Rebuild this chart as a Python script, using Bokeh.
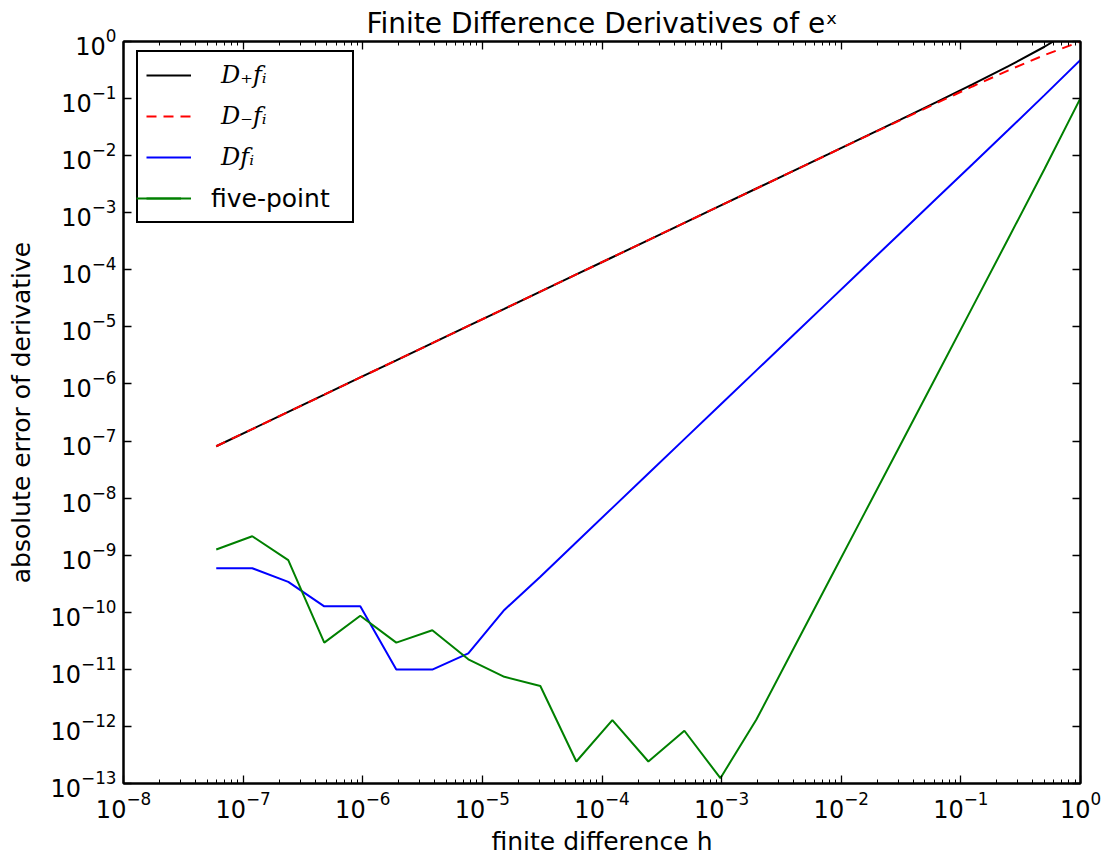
from bokeh.plotting import figure
from bokeh.models import LogAxis, FixedTicker, Legend, LegendItem, Range1d
from bokeh.embed import file_html
from bokeh.resources import INLINE

# finite difference step sizes h (powers of two)
h = [5.960464477539063e-08, 1.1920928955078125e-07, 2.384185791015625e-07, 4.76837158203125e-07,
     9.5367431640625e-07, 1.9073486328125e-06, 3.814697265625e-06, 7.62939453125e-06,
     1.52587890625e-05, 3.0517578125e-05, 6.103515625e-05, 0.0001220703125,
     0.000244140625, 0.00048828125, 0.0009765625, 0.001953125, 0.00390625,
     0.0078125, 0.015625, 0.03125, 0.0625, 0.125, 0.25, 0.5, 1.0]

err_forward = [8.10e-08, 1.62e-07, 3.24e-07, 6.48e-07, 1.30e-06, 2.59e-06, 5.18e-06, 1.04e-05,
               2.07e-05, 4.15e-05, 8.30e-05, 1.66e-04, 3.32e-04, 6.64e-04, 1.33e-03, 2.66e-03,
               5.32e-03, 1.06e-02, 2.13e-02, 4.29e-02, 8.67e-02, 0.177, 0.370, 0.809, 1.95]

err_backward = [8.10e-08, 1.62e-07, 3.24e-07, 6.48e-07, 1.30e-06, 2.59e-06, 5.18e-06, 1.04e-05,
                2.07e-05, 4.15e-05, 8.29e-05, 1.66e-04, 3.32e-04, 6.64e-04, 1.33e-03, 2.65e-03,
                5.30e-03, 1.06e-02, 2.11e-02, 4.20e-02, 8.32e-02, 0.163, 0.313, 0.579, 1.0]

err_central = [5.9e-10, 5.9e-10, 3.4e-10, 1.27e-10, 1.27e-10, 9.9e-12, 9.9e-12, 1.9e-11,
               1.1e-10, 4.2e-10, 1.69e-09, 6.75e-09, 2.70e-08, 1.08e-07, 4.32e-07, 1.73e-06,
               6.91e-06, 2.77e-05, 1.11e-04, 4.42e-04, 1.77e-03, 7.08e-03, 2.84e-02, 0.115, 0.476]

err_five = [1.26e-09, 2.15e-09, 8.2e-10, 2.94e-11, 8.7e-11, 2.94e-11, 4.83e-11, 1.5e-11,
            7.4e-12, 5.1e-12, 2.43e-13, 1.29e-12, 2.43e-13, 8.4e-13, 1.24e-13, 1.32e-12,
            2.11e-11, 3.38e-10, 5.40e-09, 8.64e-08, 1.38e-06, 2.22e-05, 3.57e-04, 5.83e-03, 0.102]

series_labels = ["D₊fᵢ", "D₋fᵢ", "Dfᵢ", "five-point"]

x_major = [10.0 ** e for e in range(-8, 1)]
x_minor = [m * 10.0 ** e for e in range(-8, 0) for m in range(2, 10)]
y_major = [10.0 ** e for e in range(-13, 1)]

FONT = "DejaVu Sans"
FL, FT, FR, FB = 123, 41, 1080, 783

p = figure(width=1104, height=860, x_axis_type="log", y_axis_type="log",
           x_range=Range1d(1e-8, 1.0), y_range=Range1d(1e-13, 1.0),
           output_backend="svg", toolbar_location=None,
           min_border_left=FL, min_border_right=1104 - FR,
           min_border_top=FT, min_border_bottom=860 - FB)

p.title.text = "Finite Difference Derivatives of eˣ"
p.title.align = "center"
p.title.vertical_align = "top"
p.title.text_font = FONT
p.title.text_font_size = "28px"
p.title.text_font_style = "normal"
p.title.text_color = "black"
p.title.standoff = 0

p.xgrid.visible = False
p.ygrid.visible = False
p.outline_line_color = "black"
p.outline_line_width = 2
p.background_fill_color = "white"
p.border_fill_color = "white"

xt = FixedTicker(ticks=x_major, minor_ticks=x_minor)
yt = FixedTicker(ticks=y_major, minor_ticks=[])

def style(ax, labels=True):
    ax.major_tick_in = 8
    ax.major_tick_out = 0
    ax.minor_tick_in = 4
    ax.minor_tick_out = 0
    ax.axis_line_color = "black"
    ax.axis_line_width = 2
    ax.major_tick_line_color = "black"
    ax.minor_tick_line_color = "black"
    ax.major_tick_line_width = 1.3
    ax.minor_tick_line_width = 1.0
    ax.major_label_text_font = FONT
    ax.major_label_text_color = "black"
    if labels:
        ax.major_label_text_font_size = "24px"
        ax.major_label_standoff = 7
    else:
        ax.major_label_text_font_size = "0px"
        ax.major_label_text_alpha = 0
        ax.major_label_standoff = 0

xa = p.xaxis[0]
ya = p.yaxis[0]
xa.ticker = xt
ya.ticker = yt
style(xa)
style(ya)
xa.axis_label = "finite difference h"
ya.axis_label = "absolute error of derivative"
for ax in (xa, ya):
    ax.axis_label_text_font = FONT
    ax.axis_label_text_font_size = "25px"
    ax.axis_label_text_font_style = "normal"
    ax.axis_label_text_color = "black"
xa.axis_label_standoff = 6
ya.axis_label_standoff = 12

top = LogAxis(ticker=xt)
style(top, labels=False)
p.add_layout(top, "above")
right = LogAxis(ticker=yt)
style(right, labels=False)
p.add_layout(right, "right")

r_f = p.line(h, err_forward, line_color="black", line_width=2)
r_b = p.line(h, err_backward, line_color="red", line_width=2, line_dash="10 7")
r_c = p.line(h, err_central, line_color="blue", line_width=2)
r_5 = p.line(h, err_five, line_color="green", line_width=2)

common = dict(margin=0, padding=8, spacing=11,
              glyph_width=45, glyph_height=30, label_height=30, label_standoff=30)

leg1 = Legend(items=[LegendItem(label=series_labels[0], renderers=[r_f]),
                     LegendItem(label=series_labels[1], renderers=[r_b]),
                     LegendItem(label=series_labels[2], renderers=[r_c]),
                     LegendItem(label=" ", renderers=[r_5])],
              location=(13, FB - 223), label_width=123,
              label_text_font="DejaVu Serif", label_text_font_style="italic",
              label_text_font_size="24px", label_text_color="black",
              border_line_color="black", border_line_width=2, border_line_alpha=1.0,
              background_fill_color="white", background_fill_alpha=1.0, **common)
p.add_layout(leg1)

leg2 = Legend(items=[LegendItem(label=series_labels[3], renderers=[r_5])],
              location=(13, FB - 223 + 10),
              label_text_font=FONT, label_text_font_size="25px", label_text_color="black",
              border_line_color=None, background_fill_alpha=0.0, **common)
p.add_layout(leg2)

open("out.html", "w").write(file_html(p, INLINE))
